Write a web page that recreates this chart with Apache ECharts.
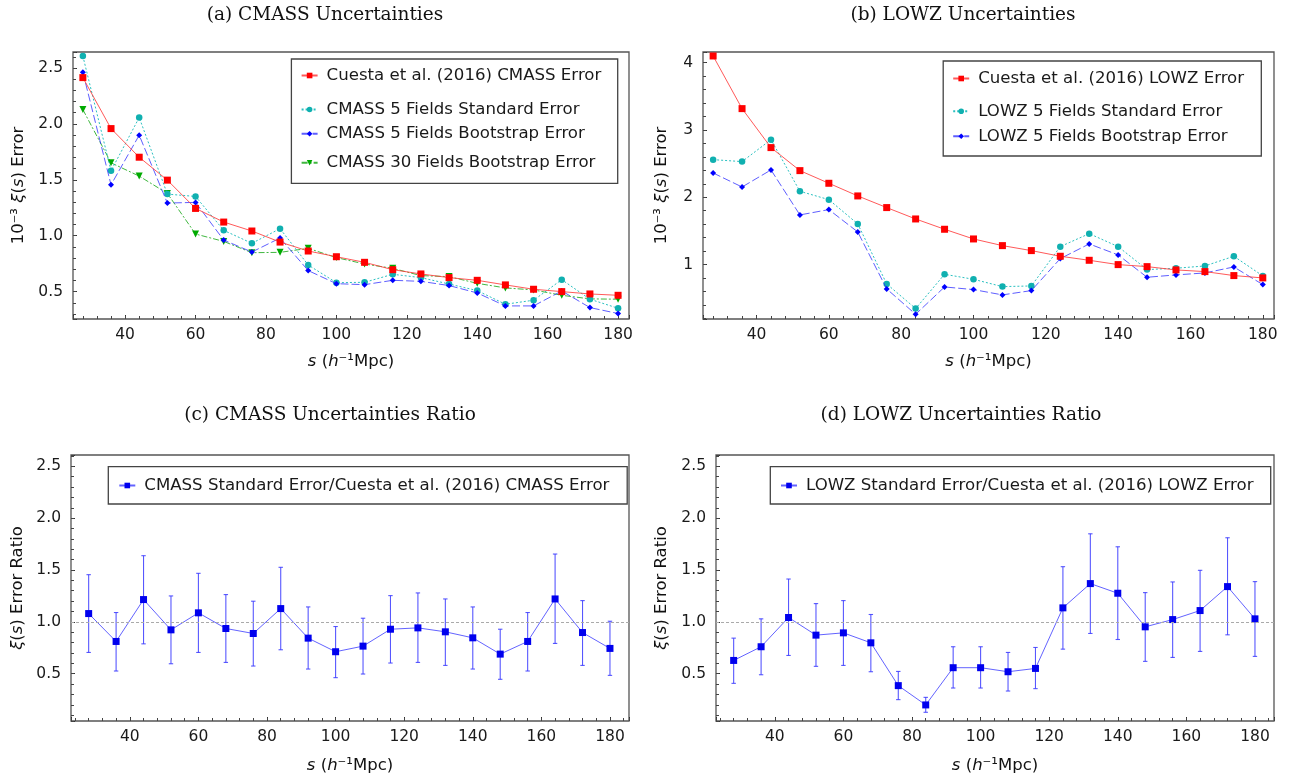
<!DOCTYPE html>
<html>
<head>
<meta charset="utf-8">
<script src="https://cdn.jsdelivr.net/npm/echarts@6/dist/echarts.min.js"></script>
<style>html,body{margin:0;padding:0;background:#fff}#c{width:1292px;height:781px}</style>
</head>
<body>
<div id="c"></div>
<script>
// ---------- data ----------
const sep = [28,36,44,52,60,68,76,84,92,100,108,116,124,132,140,148,156,164,172,180];

const cuestaCmass = [2.414,1.958,1.702,1.497,1.244,1.122,1.042,0.943,0.863,0.812,0.762,0.696,0.658,0.625,0.601,0.560,0.521,0.500,0.479,0.467];
const cmassStd    = [2.607,1.580,2.057,1.372,1.351,1.048,0.932,1.063,0.738,0.580,0.583,0.655,0.625,0.568,0.509,0.387,0.423,0.607,0.432,0.351];
const cmassBoot   = [2.461,1.455,1.899,1.292,1.298,0.961,0.854,0.979,0.688,0.571,0.562,0.601,0.592,0.554,0.488,0.372,0.372,0.506,0.357,0.304];
const cmass30Boot = [2.128,1.652,1.533,1.378,1.015,0.949,0.848,0.851,0.887,0.804,0.747,0.708,0.643,0.634,0.574,0.533,0.515,0.467,0.435,0.432];

const cuestaLowz = [4.099,3.317,2.738,2.396,2.208,2.020,1.847,1.678,1.525,1.381,1.282,1.208,1.124,1.064,1.000,0.970,0.921,0.896,0.837,0.802];
const lowzStd    = [2.559,2.530,2.856,2.089,1.965,1.604,0.713,0.347,0.856,0.782,0.673,0.683,1.267,1.460,1.267,0.926,0.946,0.980,1.124,0.832];
const lowzBoot   = [2.361,2.153,2.406,1.738,1.817,1.485,0.639,0.262,0.668,0.629,0.550,0.614,1.089,1.307,1.144,0.812,0.847,0.876,0.965,0.703];

const ratioCmass   = [1.080,0.811,1.215,0.923,1.087,0.936,0.888,1.128,0.843,0.712,0.766,0.929,0.942,0.904,0.846,0.689,0.811,1.221,0.897,0.744];
const ratioCmassHi = [1.455,1.090,1.638,1.250,1.468,1.263,1.199,1.526,1.144,0.955,1.035,1.253,1.279,1.221,1.144,0.929,1.090,1.654,1.205,1.006];
const ratioCmassLo = [0.705,0.526,0.788,0.596,0.705,0.609,0.574,0.731,0.545,0.462,0.497,0.603,0.609,0.580,0.545,0.446,0.526,0.792,0.580,0.484];

const ratioLowz   = [0.628,0.760,1.042,0.872,0.894,0.798,0.385,0.199,0.558,0.558,0.519,0.551,1.135,1.369,1.276,0.952,1.022,1.109,1.340,1.029];
const ratioLowzHi = [0.843,1.029,1.413,1.176,1.205,1.071,0.522,0.272,0.760,0.760,0.705,0.753,1.532,1.849,1.724,1.282,1.385,1.497,1.811,1.388];
const ratioLowzLo = [0.407,0.490,0.676,0.571,0.580,0.519,0.250,0.128,0.362,0.362,0.333,0.356,0.737,0.888,0.830,0.619,0.657,0.715,0.875,0.667];

const titles = ['(a) CMASS Uncertainties','(b) LOWZ Uncertainties','(c) CMASS Uncertainties Ratio','(d) LOWZ Uncertainties Ratio'];
const xName = '{i|s} ({i|h}\u207B\u00B9Mpc)';
const yNameErr = '10\u207B\u00B3 {i|\u03BE}({i|s}) Error';
const yNameRatio = '{i|\u03BE}({i|s}) Error Ratio';

// ---------- helpers ----------
const SANS = 'DejaVu Sans';
const SERIF = 'DejaVu Serif';
const pair = arr => sep.map((x,i)=>[x, arr[i]]);
const trip = (lo,hi) => sep.map((x,i)=>[x, lo[i], hi[i]]);
const isMult = (v, step) => Math.abs(v/step - Math.round(v/step)) < 1e-6;

const grids = [
  {left:73,  top:52,  width:556, height:267},
  {left:703, top:52,  width:571, height:267},
  {left:71,  top:455, width:558, height:266},
  {left:716, top:455, width:558, height:266}
];
const xRange = [[25.2,183.1],[25.2,183.1],[22.85,185.55],[22.85,185.55]];
const yRange = [[0.255,2.643],[0.192,4.158],[0.044,2.609],[0.044,2.609]];
const yMajor = [0.5,1,0.5,0.5];
const yMinor = [0.1,0.2,0.1,0.1];
const yFmt = [v=>v.toFixed(1), v=>String(Math.round(v)), v=>v.toFixed(1), v=>v.toFixed(1)];
const yNames = [yNameErr, yNameErr, yNameRatio, yNameRatio];
const yGaps = [46, 33, 45, 46];
const xGaps = [34, 34, 36, 36];

const xAxes = [], yAxes = [];
grids.forEach((g, p) => {
  xAxes.push({
    gridIndex:p, type:'value', position:'bottom', min:xRange[p][0], max:xRange[p][1],
    minInterval:20, maxInterval:20,
    axisLine:{show:false, onZero:false},
    axisTick:{show:true, inside:true, length:4, lineStyle:{color:'#333', width:1}},
    axisLabel:{margin:8, fontFamily:SANS, fontSize:15.5, color:'#1a1a1a',
      formatter: v => isMult(v,20) ? String(Math.round(v)) : ''},
    splitLine:{show:false},
    name:xName, nameLocation:'middle', nameGap:xGaps[p],
    nameTextStyle:{fontFamily:SANS, fontSize:16.5, color:'#111',
      rich:{i:{fontFamily:SANS, fontSize:16.5, fontStyle:'italic', color:'#111'}}}
  });
  xAxes.push({
    gridIndex:p, type:'value', position:'bottom', min:xRange[p][0], max:xRange[p][1],
    minInterval:4, maxInterval:4,
    axisLine:{show:false, onZero:false},
    axisTick:{show:true, inside:true, length:3, lineStyle:{color:'#444', width:1}},
    axisLabel:{show:false}, splitLine:{show:false}
  });
  yAxes.push({
    gridIndex:p, type:'value', position:'left', min:yRange[p][0], max:yRange[p][1],
    minInterval:yMajor[p], maxInterval:yMajor[p],
    axisLine:{show:false, onZero:false},
    axisTick:{show:true, inside:true, length:4, lineStyle:{color:'#333', width:1}},
    axisLabel:{margin:10, fontFamily:SANS, fontSize:15.5, color:'#1a1a1a',
      formatter: v => isMult(v,yMajor[p]) ? yFmt[p](v) : ''},
    splitLine:{show:false},
    name:yNames[p], nameLocation:'middle', nameGap:yGaps[p],
    nameTextStyle:{fontFamily:SANS, fontSize:16.5, color:'#111',
      rich:{i:{fontFamily:SANS, fontSize:16.5, fontStyle:'italic', color:'#111'}}}
  });
  yAxes.push({
    gridIndex:p, type:'value', position:'left', min:yRange[p][0], max:yRange[p][1],
    minInterval:yMinor[p], maxInterval:yMinor[p],
    axisLine:{show:false, onZero:false},
    axisTick:{show:true, inside:true, length:3, lineStyle:{color:'#444', width:1}},
    axisLabel:{show:false}, splitLine:{show:false}
  });
});

function lineSeries(name, p, arr, o) {
  return {
    name, type:'line', xAxisIndex:2*p, yAxisIndex:2*p, data:pair(arr),
    symbol:o.symbol, symbolSize:o.size, symbolRotate:o.rotate||0,
    itemStyle:{color:o.mcolor},
    lineStyle:{color:o.lcolor, width:1, type:o.dash},
    showSymbol:true, animation:false, z:o.z||2
  };
}
function errSeries(p, lo, hi) {
  return {
    type:'custom', xAxisIndex:2*p, yAxisIndex:2*p, data:trip(lo,hi),
    encode:{x:0, y:[1,2]}, animation:false, z:1, silent:true,
    renderItem:(params, api) => {
      const x = api.value(0);
      const a = api.coord([x, api.value(1)]);
      const b = api.coord([x, api.value(2)]);
      const st = {stroke:'#3a3aff', lineWidth:1.1, opacity:0.85};
      return {type:'group', children:[
        {type:'line', shape:{x1:a[0], y1:a[1], x2:b[0], y2:b[1]}, style:st},
        {type:'line', shape:{x1:a[0]-2.2, y1:a[1], x2:a[0]+2.2, y2:a[1]}, style:st},
        {type:'line', shape:{x1:b[0]-2.2, y1:b[1], x2:b[0]+2.2, y2:b[1]}, style:st}
      ]};
    }
  };
}

const RED = {symbol:'rect', size:7, mcolor:'#ff0000', lcolor:'rgba(255,60,60,0.85)', dash:'solid', z:5};
const CYAN = {symbol:'circle', size:6.5, mcolor:'#10b0b0', lcolor:'rgba(20,185,185,0.9)', dash:[2,2], z:3};
const BLUE = {symbol:'diamond', size:6, mcolor:'#0000ff', lcolor:'rgba(40,40,255,0.75)', dash:[8,3], z:4};
const GREEN = {symbol:'triangle', size:7, rotate:180, mcolor:'#00aa00', lcolor:'rgba(30,170,30,0.85)', dash:[6,2,2,2], z:2};
const RATIO = {symbol:'rect', size:7, mcolor:'#0000ee', lcolor:'rgba(60,60,255,0.8)', dash:'solid', z:4};

const nA = ['Cuesta et al. (2016) CMASS Error','CMASS 5 Fields Standard Error','CMASS 5 Fields Bootstrap Error','CMASS 30 Fields Bootstrap Error'];
const nB = ['Cuesta et al. (2016) LOWZ Error','LOWZ 5 Fields Standard Error','LOWZ 5 Fields Bootstrap Error'];
const nC = 'CMASS Standard Error/Cuesta et al. (2016) CMASS Error';
const nD = 'LOWZ Standard Error/Cuesta et al. (2016) LOWZ Error';

const dashedOne = {silent:true, symbol:'none', label:{show:false},
  lineStyle:{color:'#aaaaaa', type:[3,2], width:1}, data:[{yAxis:1}]};

const series = [
  lineSeries(nA[3], 0, cmass30Boot, GREEN),
  lineSeries(nA[1], 0, cmassStd, CYAN),
  lineSeries(nA[2], 0, cmassBoot, BLUE),
  lineSeries(nA[0], 0, cuestaCmass, RED),
  lineSeries(nB[1], 1, lowzStd, CYAN),
  lineSeries(nB[2], 1, lowzBoot, BLUE),
  lineSeries(nB[0], 1, cuestaLowz, RED),
  errSeries(2, ratioCmassLo, ratioCmassHi),
  Object.assign(lineSeries(nC, 2, ratioCmass, RATIO), {markLine:dashedOne}),
  errSeries(3, ratioLowzLo, ratioLowzHi),
  Object.assign(lineSeries(nD, 3, ratioLowz, RATIO), {markLine:dashedOne})
];

function leg(name, left, cy) {
  return {
    data:[name], left:left, top:cy-9, orient:'horizontal', padding:0,
    itemWidth:16, itemHeight:7, selectedMode:false, z:6,
    textStyle:{fontFamily:SANS, fontSize:16.6, color:'#1a1a1a', padding:[0,0,0,4]}
  };
}
const legends = [
  leg(nA[0], 300.6, 76), leg(nA[1], 300.6, 110), leg(nA[2], 300.6, 134.3), leg(nA[3], 300.6, 163.3),
  leg(nB[0], 952.2, 79), leg(nB[1], 952.2, 111.7), leg(nB[2], 952.2, 136.7),
  leg(nC, 118.3, 486), leg(nD, 780, 486)
];

const boxStyle = {fill:'#ffffff', stroke:'#444', lineWidth:1.3};
const graphics = [
  {type:'rect', z:5, shape:{x:291.4, y:59, width:326.3, height:124.3}, style:boxStyle},
  {type:'rect', z:5, shape:{x:943.2, y:61, width:318.1, height:95}, style:boxStyle},
  {type:'rect', z:5, shape:{x:108.3, y:466.7, width:518.9, height:37.3}, style:boxStyle},
  {type:'rect', z:5, shape:{x:770.3, y:466.7, width:500.4, height:37.3}, style:boxStyle},
  {type:'text', x:325, y:15, style:{text:titles[0], fontFamily:SERIF, fontSize:18.5, fill:'#111', textAlign:'center', textVerticalAlign:'middle'}},
  {type:'text', x:963, y:15, style:{text:titles[1], fontFamily:SERIF, fontSize:18.5, fill:'#111', textAlign:'center', textVerticalAlign:'middle'}},
  {type:'text', x:330, y:415, style:{text:titles[2], fontFamily:SERIF, fontSize:18.5, fill:'#111', textAlign:'center', textVerticalAlign:'middle'}},
  {type:'text', x:961, y:415, style:{text:titles[3], fontFamily:SERIF, fontSize:18.5, fill:'#111', textAlign:'center', textVerticalAlign:'middle'}}
];

const chart = echarts.init(document.getElementById('c'), null, {renderer:'canvas'});
chart.setOption({
  backgroundColor:'#ffffff',
  animation:false,
  grid: grids.map(g => Object.assign({show:true, borderColor:'#555', borderWidth:1.3, backgroundColor:'transparent', containLabel:false, outerBoundsMode:'none'}, g)),
  xAxis: xAxes,
  yAxis: yAxes,
  legend: legends,
  graphic: graphics,
  series: series
});
</script>
</body>
</html>
